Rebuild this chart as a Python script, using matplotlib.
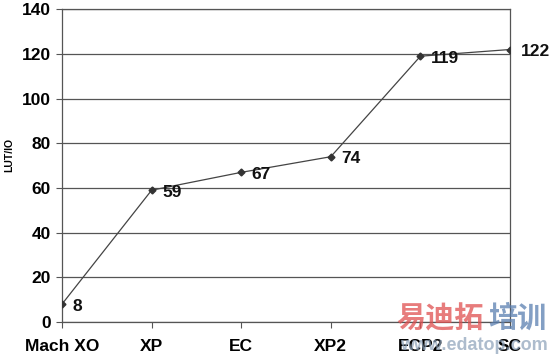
import matplotlib
matplotlib.use("Agg")
import matplotlib.pyplot as plt

categories = ["Mach XO", "XP", "EC", "XP2", "ECP2", "SC"]
values = [8, 59, 67, 74, 119, 122]
yticks = [0, 20, 40, 60, 80, 100, 120, 140]

plt.rcParams['font.family'] = ['Liberation Sans', 'DejaVu Sans']

fig = plt.figure(figsize=(5.5, 3.57), dpi=100)
ax = fig.add_axes([62/550, 1 - 322/357, (510 - 62)/550, (322 - 9.3)/357])

x = list(range(len(categories)))
ax.plot(x, values, color='#444444', lw=0.9, marker='D', markersize=3.5,
        markerfacecolor='#333333', markeredgecolor='#333333', zorder=3)
for xi, v in zip(x, values):
    ax.annotate(str(v), (xi, v), xytext=(7.5, -1.5), textcoords='offset points',
                ha='left', va='center', fontsize=12.5, fontweight='bold', color='#111111',
                annotation_clip=False, zorder=4)

ax.set_xlim(0, len(categories) - 1)
ax.set_ylim(0, 140)
ax.set_yticks(yticks)
ax.set_xticks(x)
ax.set_xticklabels(categories, fontsize=12.5, fontweight='bold')
ax.set_yticklabels([str(t) for t in yticks], fontsize=12.5, fontweight='bold')
ax.tick_params(axis='both', direction='out', length=4, width=0.8, color='#555555')
ax.tick_params(axis='x', pad=8)
ax.tick_params(axis='y', pad=4)
ax.yaxis.grid(True, color='#555555', lw=0.9)
ax.set_axisbelow(True)
for s in ax.spines.values():
    s.set_color('#555555')
    s.set_linewidth(0.9)

fig.text(9/550, 1 - 155/357, "LUT/IO", rotation=90, ha='center', va='center',
         fontsize=7.5, fontweight='bold')

# watermark
fig.text(396/550, 1 - 318/357, "易迪拓", color='#e05050', alpha=0.75, fontsize=21,
         fontweight='bold', family=['Noto Sans CJK SC', 'DejaVu Sans'], ha='left', va='center')
fig.text(488/550, 1 - 318/357, "培训", color='#5a7fb0', alpha=0.75, fontsize=21,
         fontweight='bold', family=['Noto Sans CJK SC', 'DejaVu Sans'], ha='left', va='center')
fig.text(400/550, 1 - 346/357, "www.edatop.com", color='#8aa0b8', alpha=0.7, fontsize=13,
         fontweight='bold', ha='left', va='center')

fig.savefig("out.png", dpi=100)
